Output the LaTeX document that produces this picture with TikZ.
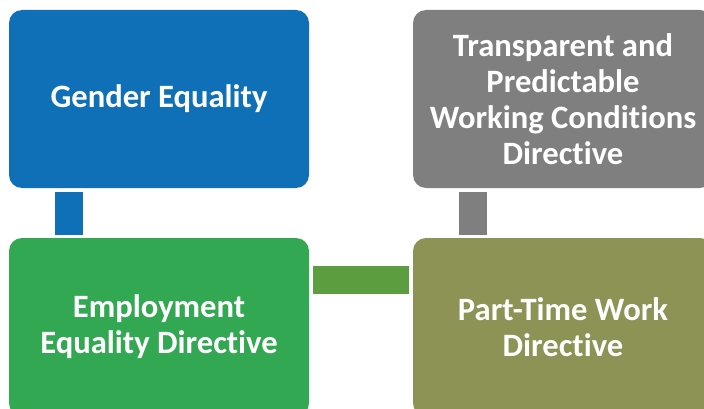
\documentclass[tikz,border=0pt]{standalone}
\usepackage{fontspec}
\setmainfont{Carlito}[Ligatures=NoCommon]
\usetikzlibrary{calc}
\definecolor{boxblue}{HTML}{0F70B7}
\definecolor{boxgray}{HTML}{7F7F7F}
\definecolor{boxgreen}{HTML}{32A852}
\definecolor{boxolive}{HTML}{8C9355}
\definecolor{linkgreen}{HTML}{5C9E3F}
\begin{document}
\begin{tikzpicture}[x=1pt,y=-1pt,
    card/.style={rectangle,rounded corners=13pt,minimum width=300pt,minimum height=178pt,
        inner sep=0pt,text=white,align=center,font=\fontsize{32.6}{36}\selectfont\bfseries},
    link/.style={line width=28pt}]
    \useasboundingbox (0,0) rectangle (704,409);
    \clip (0,0) rectangle (704,409);
    \node[card,fill=boxblue] (gender) at (159,99) {Gender Equality};
    \node[card,fill=boxgray] (transp) at (563,99) {Transparent and\\Predictable\\Working Conditions\\Directive};
    \node[card,fill=boxgreen] (employ) at (159,327) {Employment\\Equality Directive};
    \node[card,fill=boxolive] (parttime) at (563,327) {Part-Time Work\\Directive};
    \draw[link,boxblue] ($(gender.south west)+(60,4)$) -- ($(employ.north west)+(60,-3)$);
    \draw[link,boxgray] ($(transp.south west)+(60,4)$) -- ($(parttime.north west)+(60,-3)$);
    \draw[link,linkgreen] ($(employ.north east)+(4,42.5)$) -- ($(parttime.north west)+(-4,42.5)$);
\end{tikzpicture}
\end{document}
